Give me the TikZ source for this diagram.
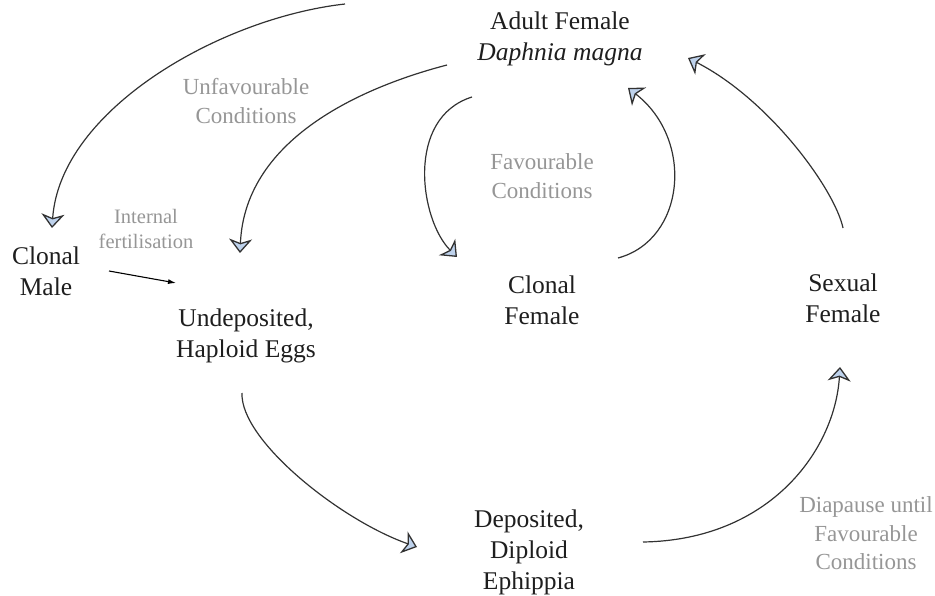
\documentclass[tikz,border=0pt]{standalone}
\usepackage{fontspec}
\setmainfont{Liberation Serif}
\usepackage{xcolor}
\usepackage{tikz}
\usetikzlibrary{arrows.meta,calc}
\definecolor{stagetext}{RGB}{30,30,30}
\definecolor{condgray}{RGB}{150,150,150}
\definecolor{linegray}{RGB}{50,50,50}
\definecolor{tipblue}{RGB}{190,210,236}

\begin{document}
\begin{tikzpicture}[x=1pt,y=-1pt,
  stage/.style={align=center,text=stagetext,font=\fontsize{25.5}{31}\selectfont},
  cond/.style={align=center,text=condgray,font=\fontsize{23}{28.5}\selectfont},
  cycle/.style={draw=linegray,line width=1.2pt,
    -{Stealth[length=14pt,width=23pt,inset=4pt,fill=tipblue,line width=1.3pt]}}]
  \useasboundingbox (0,0) rectangle (935,596);
  % stages of the life cycle
  \node[stage] (adult) at (560,39) {Adult Female\\\textit{Daphnia magna}};
  \node[stage] (cmale) at (46,271.5) {Clonal\\Male};
  \node[stage] (ueggs) at (246,336) {Undeposited,\\Haploid Eggs};
  \node[stage] (cfemale) at (542,300) {Clonal\\Female};
  \node[stage] (sfemale) at (843,298.5) {Sexual\\Female};
  \node[stage] (ephip) at (529,552) {Deposited,\\Diploid\\Ephippia};
  % conditions
  \node[cond] (unfav) at (246,101) {Unfavourable\\Conditions};
  \node[cond] (fav) at (542,176) {Favourable\\Conditions};
  \node[cond] (diapause) at (866,533.5) {Diapause until\\Favourable\\Conditions};
  \node[cond,font=\fontsize{20.5}{25}\selectfont] (internal) at (146,228.5) {Internal\\fertilisation};
  % arrows
  \draw[cycle] ($(adult)+(-215,-35)$) .. controls +(-125,14) and +(8,-118) .. ($(cmale)+(6,-43.5)$);
  \draw[cycle] ($(adult)+(-113,26)$) .. controls +(-77,20) and +(5,-118) .. ($(ueggs)+(-6,-83)$);
  \draw[cycle] ($(adult)+(-88,58)$) .. controls +(-67,21) and +(-37,-37) .. ($(cfemale)+(-85,-43)$);
  \draw[cycle] ($(cfemale)+(76,-42)$) .. controls +(67,-18) and +(67,52) .. ($(adult)+(68,49)$);
  \draw[cycle] ($(sfemale)+(0,-70.5)$) .. controls +(-8,-38) and +(82,42) .. ($(adult)+(128,19)$);
  \draw[cycle] ($(ueggs)+(-4,57)$) .. controls +(-2,47) and +(-77,-27) .. ($(ephip)+(-112,-5)$);
  \draw[cycle] ($(ephip)+(114,-10)$) .. controls +(127,-2) and +(-5,83) .. ($(sfemale)+(-3,68.5)$);
  \draw[line width=1.1pt,-{Latex[length=8pt,width=5pt]}] ($(cmale)+(63,-0.5)$) -- ($(ueggs)+(-70,-53)$);
\end{tikzpicture}
\end{document}
